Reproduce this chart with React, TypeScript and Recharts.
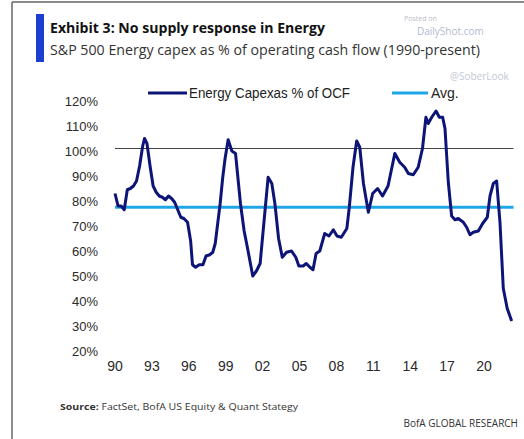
import React from "react";
import { LineChart, Line, XAxis, YAxis, ReferenceLine } from "recharts";

// Decimal year of each observation
const years = [
  1990.0, 1990.25, 1990.5, 1990.75, 1991.0, 1991.25, 1991.5, 1991.75, 1992.0, 1992.25,
  1992.4, 1992.6, 1992.85, 1993.1, 1993.35, 1993.6, 1993.85, 1994.1, 1994.35, 1994.6,
  1994.85, 1995.1, 1995.35, 1995.6, 1995.9, 1996.15, 1996.3, 1996.55, 1996.85, 1997.15,
  1997.4, 1997.7, 1997.95, 1998.15, 1998.35, 1998.55, 1998.75, 1998.95, 1999.2, 1999.5,
  1999.8, 2000.0, 2000.2, 2000.5, 2000.8, 2001.2, 2001.5, 2001.8, 2002.1, 2002.45,
  2002.75, 2003.0, 2003.3, 2003.6, 2003.95, 2004.35, 2004.7, 2004.95, 2005.3, 2005.55,
  2005.85, 2006.1, 2006.35, 2006.65, 2007.05, 2007.4, 2007.75, 2008.05, 2008.4, 2008.85,
  2009.05, 2009.35, 2009.65, 2009.9, 2010.2, 2010.6, 2010.95, 2011.35, 2011.75, 2012.2,
  2012.75, 2013.15, 2013.55, 2013.85, 2014.25, 2014.65, 2015.0, 2015.28, 2015.47, 2015.75,
  2016.1, 2016.37, 2016.64, 2016.83, 2017.1, 2017.37, 2017.64, 2017.91, 2018.32, 2018.59,
  2018.86, 2019.13, 2019.54, 2019.89, 2020.27, 2020.49, 2020.76, 2021.03, 2021.3, 2021.57,
  2021.89, 2022.25,
];

// S&P 500 Energy capex as % of operating cash flow
const capexPct = [
  82, 77, 77, 75.5, 83.5, 84, 85, 87, 93, 101,
  104, 102, 93, 85, 82.5, 81, 80.5, 79.5, 81, 80,
  78.5, 75.5, 72.5, 72, 70.5, 63, 53.5, 52.5, 53.5, 53.5,
  57, 57.5, 58.5, 62, 70, 78, 88, 96, 103.5, 99,
  98, 88, 78, 67, 59.5, 49, 51, 54, 70, 88.5,
  86, 78, 64, 56.5, 58.5, 59, 56.5, 53, 53, 54,
  52.5, 51.5, 58, 59, 66, 65, 67.5, 65, 64.5, 68,
  76.5, 92.5, 103, 100.5, 86, 74.5, 82, 84, 81, 85,
  98, 94.5, 92.5, 90, 89.5, 92.5, 100, 112.5, 110, 112.5,
  115, 112.5, 112.5, 108, 86.5, 73, 71.5, 72, 70.5, 68.5,
  65.5, 66.5, 67, 70, 72.5, 81, 86, 87, 70.5, 44,
  36, 31,
];

const AVG = 76.5;
const yTicks = [20, 30, 40, 50, 60, 70, 80, 90, 100, 110, 120];
const xTicks = [1990, 1993, 1996, 1999, 2002, 2005, 2008, 2011, 2014, 2017, 2020];

const data = years.map((y, i) => ({ year: y, capex: capexPct[i] }));

const NAVY = "#0d1478";
const LIGHT = "#1ea7e6";
const FONT = "'Liberation Sans', Arial, sans-serif";

const YTick = (props: any) => {
  const { x, y, payload } = props;
  return (
    <text x={x} y={y + 3} textAnchor="end" dominantBaseline="central" fontSize={13} fill="#2a2a2a" fontFamily={FONT}>
      {payload.value}%
    </text>
  );
};

const XTick = (props: any) => {
  const { x, y, payload } = props;
  const v = String(payload.value % 100).padStart(2, "0");
  return (
    <text x={x} y={y + 20} textAnchor="middle" fontSize={14} fill="#2a2a2a" fontFamily={FONT}>
      {v}
    </text>
  );
};

export default function App() {
  return (
    <div style={{ position: "absolute", left: 0, top: 0, width: 524, height: 439, background: "#fff", overflow: "hidden" }}>
      <svg width={524} height={439} style={{ position: "absolute", left: 0, top: 0 }}>
        <line x1={12} y1={2} x2={12} y2={439} stroke="#666" strokeWidth={1.5} />
        <line x1={12} y1={2} x2={524} y2={2} stroke="#666" strokeWidth={1.5} />
        <rect x={36} y={14} width={8} height={48} fill="#1b3fcf" />
        <text x={50} y={33} fontFamily="'Open Sans', sans-serif" fontWeight={700} fontSize={14.5} fill="#111" textLength={275} lengthAdjust="spacingAndGlyphs">
          Exhibit 3: No supply response in Energy
        </text>
        <text x={50} y={55} fontFamily="'Open Sans', sans-serif" fontSize={15} fill="#333" textLength={430} lengthAdjust="spacingAndGlyphs">
          S&amp;P 500 Energy capex as % of operating cash flow (1990-present)
        </text>
        <text x={404} y={21} fontFamily="'Open Sans', sans-serif" fontSize={7} fill="#b8bccb">Posted on</text>
        <text x={417} y={35} fontFamily="'Open Sans', sans-serif" fontSize={10} fill="#b3b9cf">DailyShot.com</text>
        <text x={450} y={80} fontFamily="'Open Sans', sans-serif" fontSize={10} fill="#c3c7d6">@SoberLook</text>

        <line x1={148} y1={93} x2={187} y2={93} stroke={NAVY} strokeWidth={3} />
        <text x={189} y={98} fontFamily={FONT} fontSize={14} fill="#222" textLength={161} lengthAdjust="spacingAndGlyphs">
          Energy Capexas % of OCF
        </text>
        <line x1={392} y1={93} x2={428} y2={93} stroke={LIGHT} strokeWidth={3} />
        <text x={431} y={98} fontFamily={FONT} fontSize={14} fill="#222">Avg.</text>

        <text x={60} y={410} fontFamily="'Open Sans', sans-serif" fontSize={9.5} fill="#333" textLength={238} lengthAdjust="spacingAndGlyphs">
          <tspan fontWeight={700}>Source:</tspan> FactSet, BofA US Equity &amp; Quant Stategy
        </text>
        <text x={518} y={427} textAnchor="end" fontFamily="'Open Sans', sans-serif" fontSize={10} fill="#333">
          BofA GLOBAL RESEARCH
        </text>
      </svg>
      <div style={{ position: "absolute", left: 0, top: 0 }}>
        <LineChart width={524} height={439} data={data} margin={{ top: 98.5, right: 10.5, bottom: 60.5, left: 0 }}>
          <XAxis
            dataKey="year"
            type="number"
            domain={[1990, 2022.4]}
            ticks={xTicks}
            axisLine={false}
            tickLine={false}
            tickSize={0}
            height={30}
            interval={0}
            tick={<XTick />}
          />
          <YAxis
            type="number"
            domain={[20, 120]}
            ticks={yTicks}
            width={115}
            axisLine={false}
            tickLine={false}
            tickSize={0}
            tickMargin={17}
            interval={0}
            tick={<YTick />}
          />
          <ReferenceLine y={100} stroke="#444" strokeWidth={1.2} ifOverflow="extendDomain" />
          <ReferenceLine y={AVG} stroke={LIGHT} strokeWidth={3} />
          <Line
            type="linear"
            dataKey="capex"
            stroke={NAVY}
            strokeWidth={3}
            dot={false}
            isAnimationActive={false}
            strokeLinejoin="round"
          />
        </LineChart>
      </div>
    </div>
  );
}
